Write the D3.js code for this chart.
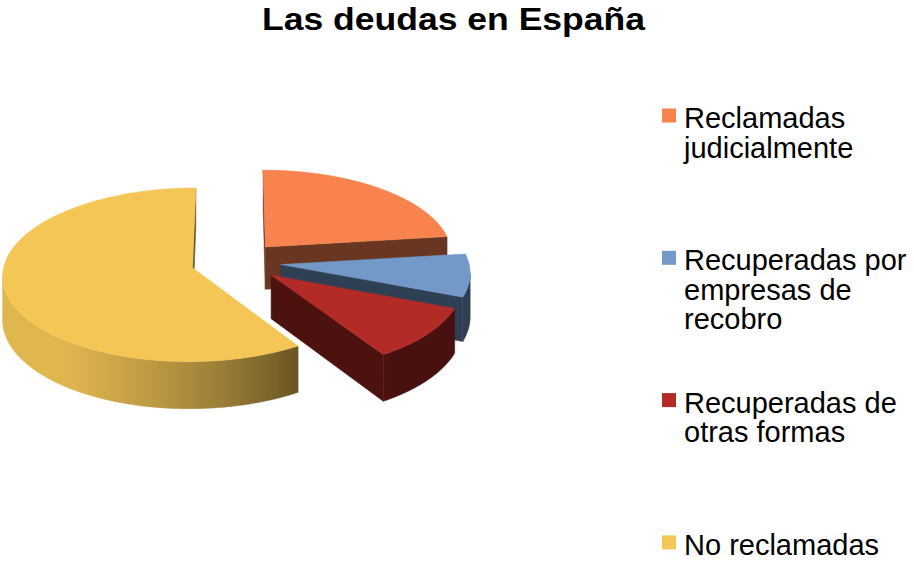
<!DOCTYPE html>
<html>
<head>
<meta charset="utf-8">
<script src="https://cdn.jsdelivr.net/npm/d3@7"></script>
<style>
  html, body { margin: 0; padding: 0; background: #fff; }
  svg { display: block; }
</style>
</head>
<body>
<svg id="chart" width="914" height="562"></svg>
<script>
// ---- data ----
const title = "Las deudas en España";
const categories = ["Reclamadas judicialmente", "Recuperadas por empresas de recobro", "Recuperadas de otras formas", "No reclamadas"];
const legendLines = [["Reclamadas", "judicialmente"], ["Recuperadas por", "empresas de", "recobro"], ["Recuperadas de", "otras formas"], ["No reclamadas"]];
const values = [23, 8, 10, 59];
const colors = ["#F9834F", "#7299C8", "#B32B26", "#F4C656"];

// ---- layout ----
const W = 914, H = 562;
const svg = d3.select("#chart");
const defs = svg.append("defs");

const cx = 236, cy = 262, R = 188, tilt = 0.454, persp = 0.081, depth = 43, explode = 45;

function proj(X, Y, z) {
  const p = 1 / (1 - persp * Y / R);
  return [cx + X * p, cy + (Y * tilt + z) * p];
}
function shade(c, f) {
  const r = d3.rgb(c);
  return d3.rgb(r.r * f, r.g * f, r.b * f).formatHex();
}
function area(pts) {
  let s = 0;
  for (let i = 0; i < pts.length; i++) {
    const a = pts[i], b = pts[(i + 1) % pts.length];
    s += a[0] * b[1] - b[0] * a[1];
  }
  return s;
}
const line = d3.line().curve(d3.curveLinearClosed);

const pie = d3.pie().sort(null).value(d => d).startAngle(0).endAngle(2 * Math.PI);
const arcs = pie(values).map((a, i) => {
  const mid = (a.startAngle + a.endAngle) / 2;
  return Object.assign({}, a, { i, ox: explode * Math.sin(mid), oy: -explode * Math.cos(mid) });
});

// back-to-front order
const order = arcs.slice().sort((a, b) => a.oy - b.oy);
const g = svg.append("g");
let gradId = 0;

order.forEach(a => {
  const col = colors[a.i];
  const rimPt = (th) => [a.ox + R * Math.sin(th), a.oy - R * Math.cos(th)];
  const V = [a.ox, a.oy];
  const n = Math.max(2, Math.ceil((a.endAngle - a.startAngle) / (Math.PI / 360)));
  const ths = d3.range(n + 1).map(k => a.startAngle + (a.endAngle - a.startAngle) * k / n);
  const sg = g.append("g").attr("class", "slice");

  const wallQuad = (A, B) => [proj(A[0], A[1], 0), proj(B[0], B[1], 0), proj(B[0], B[1], depth), proj(A[0], A[1], depth)];
  const wallFill = shade(col, 0.42);

  // radial walls
  [[V, rimPt(a.startAngle)], [rimPt(a.endAngle), V]].forEach(([A, B]) => {
    const q = wallQuad(A, B);
    if (area(q) < 0) {
      sg.append("path").attr("d", line(q)).attr("fill", wallFill)
        .attr("stroke", wallFill).attr("stroke-width", 0.5);
    }
  });

  // rim side: contiguous visible runs, shaded with a gradient
  const runs = [];
  let cur = null;
  for (let k = 0; k < n; k++) {
    const q = wallQuad(rimPt(ths[k]), rimPt(ths[k + 1]));
    if (area(q) < 0) {
      if (!cur) { cur = []; runs.push(cur); }
      cur.push(k);
    } else cur = null;
  }
  runs.forEach(run => {
    const k0 = run[0], k1 = run[run.length - 1] + 1;
    const topPts = [], botPts = [], stops = [];
    for (let k = k0; k <= k1; k++) {
      const p = rimPt(ths[k]);
      topPts.push(proj(p[0], p[1], 0));
      botPts.push(proj(p[0], p[1], depth));
    }
    const xs = topPts.map(p => p[0]);
    const x0 = d3.min(xs), x1 = d3.max(xs);
    for (let k = k0; k <= k1; k++) {
      let f = 0.45 + 0.5 * Math.cos(ths[k] - 240 * Math.PI / 180);
      f = Math.max(0.40, Math.min(0.92, f));
      const px = topPts[k - k0][0];
      stops.push({ o: x1 > x0 ? (px - x0) / (x1 - x0) : 0, c: shade(col, f) });
    }
    stops.sort((s1, s2) => s1.o - s2.o);
    const id = "rim" + (gradId++);
    const lg = defs.append("linearGradient").attr("id", id)
      .attr("gradientUnits", "userSpaceOnUse")
      .attr("x1", x0).attr("x2", x1).attr("y1", 0).attr("y2", 0);
    lg.selectAll("stop").data(stops).enter().append("stop")
      .attr("offset", d => d.o).attr("stop-color", d => d.c);
    const poly = topPts.concat(botPts.reverse());
    sg.append("path").attr("d", line(poly))
      .attr("fill", `url(#${id})`).attr("stroke", `url(#${id})`).attr("stroke-width", 0.5);
  });

  const top = [proj(V[0], V[1], 0)].concat(ths.map(th => { const p = rimPt(th); return proj(p[0], p[1], 0); }));
  sg.append("path")
    .attr("class", "top")
    .attr("d", line(top))
    .attr("fill", col)
    .attr("stroke", col)
    .attr("stroke-width", 0.5);
});

// ---- title ----
svg.append("text")
  .attr("x", 453.5).attr("y", 30)
  .attr("text-anchor", "middle")
  .attr("font-family", "Liberation Sans, Arial, sans-serif")
  .attr("font-weight", "bold")
  .attr("font-size", 32)
  .attr("textLength", 383)
  .attr("lengthAdjust", "spacingAndGlyphs")
  .attr("fill", "#000")
  .text(title);

// ---- legend ----
const leg = svg.append("g").attr("class", "legend");
const lg = leg.selectAll("g").data(categories).enter().append("g")
  .attr("transform", (d, i) => `translate(0, ${128 + i * 142.3})`);
lg.append("rect")
  .attr("x", 662).attr("y", -19.5).attr("width", 14).attr("height", 14)
  .attr("fill", (d, i) => colors[i]);
lg.append("text")
  .attr("x", 684).attr("y", 0)
  .attr("font-family", "Liberation Sans, Arial, sans-serif")
  .attr("font-size", 29)
  .attr("fill", "#000")
  .selectAll("tspan").data((d, i) => legendLines[i]).enter().append("tspan")
  .attr("x", 684)
  .attr("dy", (d, k) => k === 0 ? 0 : 29.5)
  .text(d => d);
</script>
</body>
</html>
